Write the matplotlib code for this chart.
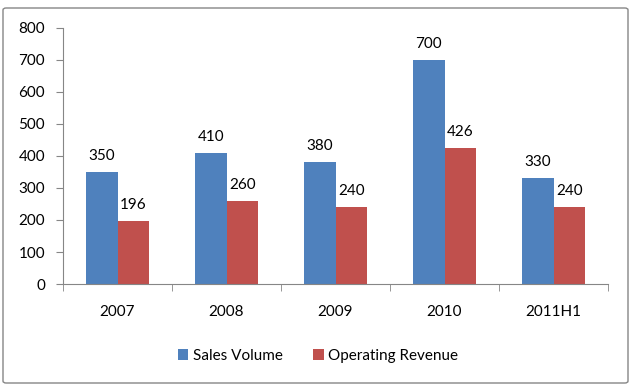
import matplotlib
matplotlib.use("Agg")
import matplotlib.pyplot as plt
from matplotlib.patches import FancyBboxPatch
import numpy as np

categories = ["2007", "2008", "2009", "2010", "2011H1"]
sales_volume = [350, 410, 380, 700, 330]
operating_revenue = [196, 260, 240, 426, 240]
series_names = ["Sales Volume", "Operating Revenue"]

plt.rcParams['font.family'] = ['Lato', 'DejaVu Sans']

fig = plt.figure(figsize=(6.34, 3.86), dpi=100)
ax = fig.add_axes([63/634, 1-284/386, (608-63)/634, (284-28)/386])

x = np.arange(len(categories))
w = 0.29
blue = "#4F81BD"
red = "#C0504D"
fs = 11
b1 = ax.bar(x - w/2, sales_volume, w, color=blue, label=series_names[0])
b2 = ax.bar(x + w/2, operating_revenue, w, color=red, label=series_names[1])

for bars, vals in ((b1, sales_volume), (b2, operating_revenue)):
    for r, v in zip(bars, vals):
        ax.annotate(str(v), (r.get_x() + r.get_width()/2, v), xytext=(0, 11.5),
                    textcoords="offset points", ha="center", va="center",
                    fontsize=fs, color="#000000")

ax.set_xlim(-0.5, len(categories) - 0.5)
ax.set_ylim(0, 800)
ax.set_yticks(np.arange(0, 801, 100))
ax.set_xticks(x)
ax.set_xticklabels(categories, fontsize=fs)
ax.tick_params(axis='x', length=0, pad=15)
ax.set_xticks(np.arange(-0.5, len(categories)), minor=True)
ax.tick_params(axis='x', which='minor', length=5, color="#868686", direction='out')
ax.tick_params(axis='y', length=5, color="#868686", labelsize=fs, pad=8)
for s in ("top", "right"):
    ax.spines[s].set_visible(False)
for s in ("left", "bottom"):
    ax.spines[s].set_color("#868686")

leg = fig.legend(loc="center", bbox_to_anchor=(318/634, 1-356/386), ncol=2,
                 frameon=False, fontsize=fs, handlelength=0.7, handleheight=0.7,
                 handletextpad=0.3, columnspacing=2.0)

border = FancyBboxPatch((3/634, 3/386), 625/634, 375/386,
                        boxstyle="round,pad=0,rounding_size=0.005",
                        transform=fig.transFigure, fill=False,
                        edgecolor="#868686", linewidth=1.0)
fig.patches.append(border)

fig.savefig("out.png", dpi=100)
